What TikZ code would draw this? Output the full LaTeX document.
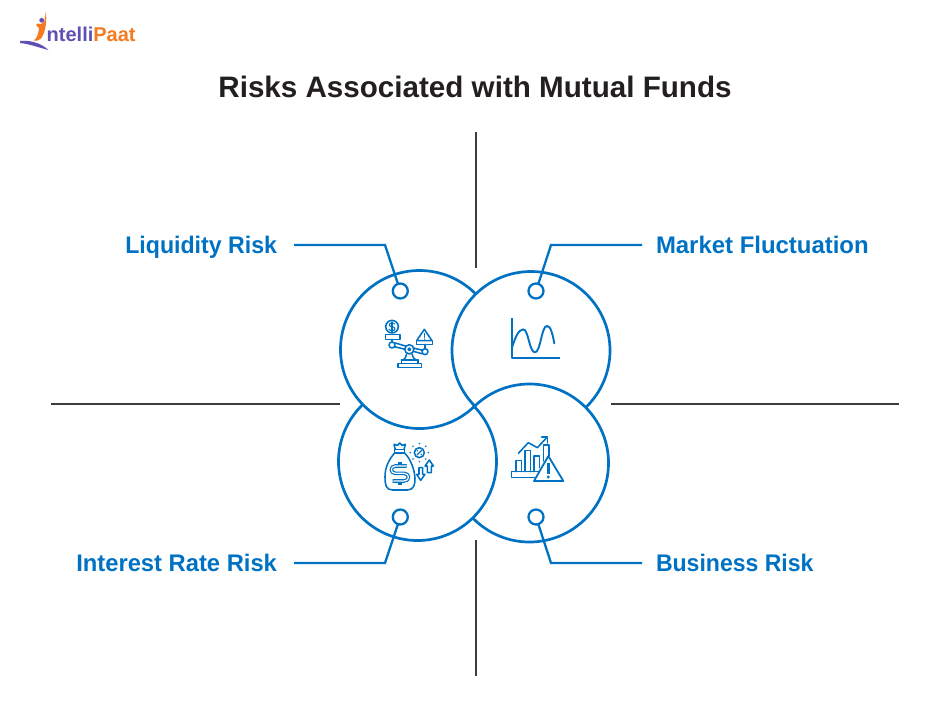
\documentclass[tikz,border=0pt]{standalone}
\usepackage{graphicx}
\usepackage{fontspec}
\setmainfont{Liberation Sans}
\usetikzlibrary{arrows.meta}
\definecolor{brandblue}{HTML}{0072C4}
\definecolor{titleink}{HTML}{231F20}
\definecolor{rulegray}{HTML}{3C3C3C}
\definecolor{logopurple}{HTML}{5F50B4}
\definecolor{logoorange}{HTML}{F47B20}
\tikzset{
  ring/.style={circle,draw=brandblue,line width=2.7pt,minimum size=158pt,inner sep=0pt,outer sep=0pt},
  pin/.style={circle,draw=brandblue,line width=2.3pt,minimum size=15pt,inner sep=0pt,outer sep=0pt},
  lead/.style={draw=brandblue,line width=2.3pt,line join=miter},
  rulebar/.style={draw=rulegray,line width=2pt},
  lbl/.style={text=brandblue,font=\fontsize{24pt}{26pt}\selectfont\bfseries,inner xsep=0pt,inner ysep=0pt,outer ysep=0pt,outer xsep=17pt,text height=16.4pt,text depth=0pt},
  lblr/.style={lbl,outer xsep=14pt},
  ico/.style={draw=brandblue,line width=1.55pt,line join=round,line cap=round},
  icothin/.style={draw=brandblue,line width=1.1pt,line join=round,line cap=round},
  icoscale/.style={x=0.3333pt,y=-0.3333pt}
}
\begin{document}
\begin{tikzpicture}[x=1pt,y=-1pt]
\useasboundingbox (0,0) rectangle (950,713);
\fill[white] (0,0) rectangle (950,713);

% logo
\fill[logopurple] (20,41) .. controls (28,40) and (40,42) .. (48.5,50) .. controls (40,48) and (30,44) .. (20,43) -- cycle;
\fill[logoorange] (46,11.5) .. controls (46.8,20) and (46,32) .. (41,38.5) .. controls (39,41) and (36,41) .. (33.5,40.5) .. controls (37,39) and (38.5,33) .. (39,28) .. controls (38,27) and (37.5,26) .. (36,25) -- (37.5,23.5) .. controls (40,25) and (42,24) .. (44.5,21) .. controls (45,17) and (45.5,14) .. (46,11.5) -- cycle;
\fill[logopurple] (41.7,20.3) circle[radius=2.4pt];
\node[anchor=base west,inner sep=0pt,font=\fontsize{20pt}{22pt}\selectfont\bfseries] (logotext) at (46.5,41) {\textcolor{logopurple}{ntelli}\textcolor{logoorange}{Paat}};

% title
\node[text=titleink,font=\fontsize{29.6pt}{32pt}\selectfont\bfseries,inner sep=0pt] (title) at (475,87) {Risks Associated with Mutual Funds};

% axis bars
\coordinate (vt1) at (475.5,132); \coordinate (vt2) at (475.5,268);
\coordinate (vb1) at (475.5,540); \coordinate (vb2) at (475.5,676);
\coordinate (hl1) at (51,404);    \coordinate (hl2) at (340,404);
\coordinate (hr1) at (611,404);   \coordinate (hr2) at (899,404);
\draw[rulebar] (vt1) -- (vt2);
\draw[rulebar] (vb1) -- (vb2);
\draw[rulebar] (hl1) -- (hl2);
\draw[rulebar] (hr1) -- (hr2);

% interlaced rings
\begin{scope}[even odd rule]
\clip (0,0) rectangle (950,713) (531,350.5) circle[radius=79pt];
\node[ring] (ringTL) at (419.5,349.5) {};
\end{scope}
\begin{scope}[even odd rule]
\clip (0,0) rectangle (950,713) (529.5,463) circle[radius=79pt];
\node[ring] (ringTR) at (531,350.5) {};
\end{scope}
\begin{scope}[even odd rule]
\clip (0,0) rectangle (950,713) (417.5,461.5) circle[radius=79pt];
\node[ring] (ringBR) at (529.5,463) {};
\end{scope}
\begin{scope}[even odd rule]
\clip (0,0) rectangle (950,713) (419.5,349.5) circle[radius=79pt];
\node[ring] (ringBL) at (417.5,461.5) {};
\end{scope}

% pins
\node[pin] (pinTL) at (400.3,291) {};
\node[pin] (pinTR) at (536,291) {};
\node[pin] (pinBL) at (400.3,517) {};
\node[pin] (pinBR) at (536,517) {};

% labels
\node[lbl,anchor=east] (lblTL) at (294,245) {\scalebox{.964}[1]{Liquidity Risk}};
\node[lblr,anchor=west] (lblTR) at (642,245) {\scalebox{.997}[1]{Market Fluctuation}};
\node[lbl,anchor=east] (lblBL) at (294,563) {\scalebox{.99}[1]{Interest Rate Risk}};
\node[lblr,anchor=west] (lblBR) at (642,563) {\scalebox{.96}[1]{Business Risk}};

% connectors
\coordinate (elTL) at (385,245);
\coordinate (elTR) at (551,245);
\coordinate (elBL) at (385,563);
\coordinate (elBR) at (551,563);
\draw[lead] (pinTL) -- (elTL) -- (lblTL.east);
\draw[lead] (pinTR) -- (elTR) -- (lblTR.west);
\draw[lead] (pinBL) -- (elBL) -- (lblBL.east);
\draw[lead] (pinBR) -- (elBR) -- (lblBR.west);

% icon: scales
\begin{scope}[shift={(370,310)},icoscale]
\draw[ico] (66,50) circle[radius=6.3pt];
\draw[icothin] (74,42) .. controls (68,36) and (56,40) .. (58,46) .. controls (60,52) and (74,48) .. (75,56) .. controls (75,63) and (62,64) .. (57,58);
\draw[icothin] (66,36) -- (66,66);
\draw[ico] (46,74) rectangle (90,88);
\draw[ico] (66,88) -- (66,96);
\draw[ico] (66,105) circle[radius=3pt];
\draw[ico] (76,99) -- (106,108) (130,114) -- (158,121);
\draw[ico] (74,110) -- (105,118) (130,124) -- (156,131);
\draw[ico] (118,118) circle[radius=4.6pt];
\draw[ico] (118,118) circle[radius=1.3pt];
\draw[ico] (110,132) .. controls (110,142) and (103,146) .. (100,150) (126,132) .. controls (126,142) and (133,146) .. (138,150);
\draw[ico] (94,150) -- (144,150);
\draw[ico] (84,160) rectangle (154,172);
\draw[ico] (94,150) -- (94,160) (144,150) -- (144,160);
\draw[ico] (163,58) -- (186,92) -- (140,92) -- cycle;
\draw[icothin] (163,70) -- (163,82) (163,87) -- (163,88);
\draw[ico] (140,92) rectangle (188,103);
\draw[ico] (165,103) -- (165,116);
\draw[ico] (165,125) circle[radius=3pt];
\end{scope}

% icon: wave chart
\begin{scope}[shift={(495,305)},icoscale]
\draw[ico,line width=1.9pt,line cap=butt] (52,40) -- (52,160) -- (195,160);
\draw[ico,line width=1.9pt] (52,125) .. controls (60,100) and (70,73) .. (85,73) .. controls (100,73) and (103,142) .. (120,142) .. controls (137,142) and (139,63) .. (156,63) .. controls (168,63) and (173,90) .. (178,115);
\end{scope}

% icon: money bag
\begin{scope}[shift={(370,435)},icoscale]
\draw[ico] (74,54) .. controls (58,72) and (45,95) .. (45,125) .. controls (45,150) and (48,165) .. (68,165) -- (112,165) .. controls (132,165) and (135,148) .. (135,130) .. controls (134,105) and (122,72) .. (104,54);
\draw[ico] (74,44) rectangle (104,54);
\draw[ico] (76,44) -- (72,28) -- (82,31) -- (89,24) -- (96,31) -- (106,28) -- (102,44);
\draw[brandblue,line width=3.6pt,line join=round] (110,93) -- (76,93) .. controls (60,93) and (60,115) .. (76,115) -- (102,115) .. controls (120,115) and (120,138) .. (102,138) -- (68,138);
\draw[brandblue,line width=3.2pt] (90,82) -- (90,93) (90,138) -- (90,150);
\draw[white,line width=1.2pt,line join=round] (108,93) -- (76,93) .. controls (60,93) and (60,115) .. (76,115) -- (102,115) .. controls (120,115) and (120,138) .. (102,138) -- (70,138);
\draw[ico] (148,53) circle[radius=5pt];
\draw[icothin] (141,60) -- (155,46);
\fill[brandblue] (142,47) circle[radius=.8pt] (154,59) circle[radius=.8pt];
\foreach \a in {0,45,...,315}{\fill[brandblue] (148,53) ++(\a:27) circle[radius=.9pt];}
\draw[ico] (147,98) -- (158,98) -- (158,118) -- (165,118) -- (152,136) -- (140,118) -- (147,118) -- cycle;
\draw[ico] (172,113) -- (172,93) -- (165,93) -- (178,75) -- (190,93) -- (184,93) -- (184,113) -- cycle;
\end{scope}

% icon: business chart
\begin{scope}[shift={(495,425)},icoscale]
\draw[ico] (130,157) -- (50,157) -- (50,140) -- (142,140);
\draw[ico] (63,140) -- (63,107) -- (80,107) -- (80,140);
\draw[ico] (90,140) -- (90,77) -- (107,77) -- (107,140);
\draw[ico] (117,140) -- (117,93) -- (133,93) -- (133,128);
\draw[ico] (145,108) -- (145,60) -- (162,60) -- (162,92);
\draw[ico] (70,85) -- (100,53) -- (127,68) -- (155,38);
\draw[ico] (140,36) -- (158,36) -- (158,54);
\draw[ico,line width=1.8pt,fill=white] (160,93) -- (205,168) -- (117,168) -- cycle;
\draw[brandblue,line width=2.4pt] (160,114) -- (160,146);
\fill[brandblue] (160,156) circle[radius=1.6pt];
\end{scope}
\end{tikzpicture}
\end{document}
